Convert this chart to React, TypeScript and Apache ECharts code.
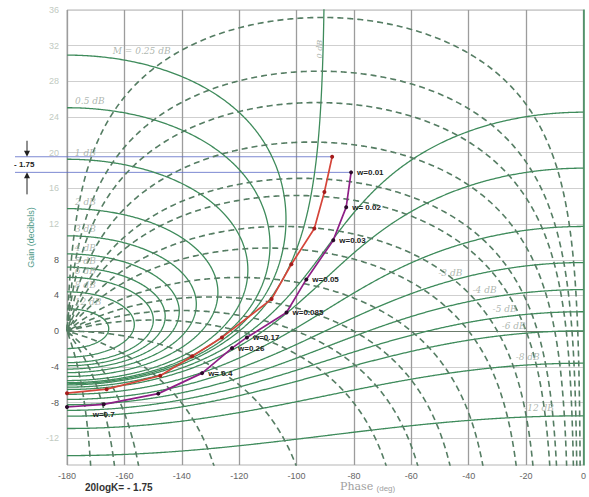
import React, { useEffect, useRef } from 'react';
import * as echarts from 'echarts';

// ---- data ----
const GAIN_TICKS = [-12, -8, -4, 0, 4, 8, 12, 16, 20, 24, 28, 32, 36];
// closed-loop magnitude contours (dB)
const M_DB = [12, 8, 6, 5, 4, 3, 2, 1, 0.5, 0.25, 0, -0.5, -1, -2, -3, -4, -5, -6, -8, -12];
// closed-loop phase contours (deg)
const N_DEG = [-1, -2, -3, -5, -8, -10, -15, -20, -30, -40, -50, -60, -90, -120, -150, -160, -170];

const RED_PHASE = [-87.6, -90.3, -93.8, -101.8, -108.7, -126.0, -136.4, -147.5, -166.2, -180];
const RED_GAIN = [19.55, 15.6, 11.5, 7.5, 3.6, -0.7, -2.8, -5.0, -6.5, -6.95];

const PURPLE_PHASE = [-81.0, -82.7, -87.2, -96.6, -103.5, -117.3, -122.5, -132.9, -148.2, -167.2, -180];
const PURPLE_GAIN = [17.8, 13.9, 10.2, 5.8, 2.1, -0.7, -1.9, -4.7, -7.0, -8.2, -8.5];
const W_LABELS = ['w=0.01', 'w= 0.02', 'w=0.03', 'w=0.05', 'w=0.085', 'w=0.17', 'w=0.26', 'w= 0.4', '', 'w=0.7', ''];

const M_LEFT_LABELS = [
  { m: 0.25, text: 'M = 0.25 dB' },
  { m: 0.5, text: '0.5 dB' },
  { m: 1, text: '1 dB' },
  { m: 2, text: '2 dB' },
  { m: 3, text: '3 dB' },
  { m: 4, text: '4 dB' },
  { m: 5, text: '5 dB' },
  { m: 6, text: '6 dB' },
  { m: 8, text: '8 dB' },
  { m: 12, text: '12 dB' },
];
const M_RIGHT_LABELS = [
  { m: -3, text: '-3 dB' },
  { m: -4, text: '-4 dB' },
  { m: -5, text: '-5 dB' },
  { m: -6, text: '-6 dB' },
  { m: -8, text: '-8 dB' },
  { m: -12, text: '-12 dB' },
];
const M_LEFT_AT = -178;
const M_QUARTER_AT = -165;
const M_RIGHT_AT = [-47, -35, -28, -25, -20, -17];

const K_TEXT = '20logK= - 1.75';
const SHIFT_TEXT = '- 1.75';

// ---- Nichols chart geometry ----
function lOf(m: number, a: number): [number, number] {
  const tr = m * Math.cos(a), ti = m * Math.sin(a);
  const dr = 1 - tr, di = -ti;
  const den = dr * dr + di * di;
  const lr = (tr * dr + ti * di) / den;
  const li = (ti * dr - tr * di) / den;
  const ph = (Math.atan2(li, lr) * 180) / Math.PI;
  const g = 10 * Math.log10(lr * lr + li * li);
  return [ph, g];
}

function mContour(mdb: number): [number, number][] {
  const m = Math.pow(10, mdb / 20);
  const pts: [number, number][] = [];
  const N = 700;
  for (let k = 0; k <= N; k++) {
    const t = k / N;
    const aDeg = -(0.002 + 179.996 * Math.pow(t, 2.5));
    pts.push(lOf(m, (aDeg * Math.PI) / 180));
  }
  return pts;
}

function nContour(aDeg: number): [number, number][] {
  const a = (aDeg * Math.PI) / 180;
  const pts: [number, number][] = [];
  const N = 1400;
  for (let k = 0; k <= N; k++) {
    const u = -1 + (2 * k) / N;
    const db = 60 * Math.sign(u) * Math.pow(Math.abs(u), 3);
    pts.push(lOf(Math.pow(10, db / 20), a));
  }
  return pts;
}

function pointAtPhase(pts: [number, number][], phase: number): [number, number] {
  const s0 = Math.sign(pts[0][0] - phase);
  for (let i = 1; i < pts.length; i++) {
    if (Math.sign(pts[i][0] - phase) !== s0) return pts[i];
  }
  return pts[pts.length - 1];
}

export default function App() {
  const ref = useRef<HTMLDivElement>(null);

  useEffect(() => {
    if (!ref.current) return;
    const chart = echarts.init(ref.current, undefined, { renderer: 'svg' });

    const contours: Record<string, [number, number][]> = {};
    M_DB.forEach((m) => (contours[String(m)] = mContour(m)));

    const mSeries = M_DB.map((m) => ({
      type: 'line',
      name: 'M' + m,
      data: contours[String(m)],
      showSymbol: false,
      symbol: 'none',
      silent: true,
      z: 2,
      lineStyle: { color: '#3e8b5b', width: 1.3 },
    }));

    const nSeries = N_DEG.map((a) => ({
      type: 'line',
      name: 'N' + a,
      data: nContour(a),
      showSymbol: false,
      symbol: 'none',
      silent: true,
      z: 2,
      lineStyle: { color: '#557d63', width: 1.6, type: [6, 4] },
    }));

    const labelStyle = {
      color: '#9aa69c',
      fontSize: 9,
      fontStyle: 'italic',
      fontFamily: 'DejaVu Serif, serif',
    };

    const leftLabelData = M_LEFT_LABELS.map((l) => ({
      value: pointAtPhase(contours[String(l.m)], l.m === 0.25 ? M_QUARTER_AT : M_LEFT_AT),
      label: { formatter: l.text },
    }));
    const rightLabelData = M_RIGHT_LABELS.map((l, i) => ({
      value: pointAtPhase(contours[String(l.m)], M_RIGHT_AT[i]),
      label: { formatter: l.text },
    }));

    const option: any = {
      animation: false,
      grid: { left: 67, right: 2, top: 10, bottom: 32, show: true, borderColor: '#b5b5b5', borderWidth: 1 },
      xAxis: {
        type: 'value',
        min: -180,
        max: 0,
        interval: 20,
        axisLine: { show: true, lineStyle: { color: '#6b7b6b', width: 1.2 } },
        axisTick: { show: false },
        axisLabel: { color: '#666', fontSize: 9, margin: 6, fontFamily: 'Liberation Sans, Arial' },
        splitLine: { show: true, lineStyle: { color: '#9c9c9c', width: 1.3 } },
      },
      yAxis: {
        type: 'value',
        min: -15,
        max: 36,
        name: 'Gain (decibels)',
        nameLocation: 'middle',
        nameGap: 32,
        nameTextStyle: { color: '#4f9a88', fontSize: 9, fontFamily: 'Liberation Sans, Arial' },
        axisLine: { show: true, lineStyle: { color: '#3e8b5b', width: 1.5 } },
        axisTick: { show: false, customValues: GAIN_TICKS },
        axisLabel: {
          customValues: GAIN_TICKS,
          margin: 8,
          fontFamily: 'Liberation Sans, Arial',
          formatter: (v: number) => (v >= 12 || v <= -12 ? `{f|${v}}` : `{d|${v}}`),
          rich: {
            f: { color: '#c2cbc2', fontSize: 9 },
            d: { color: '#555', fontSize: 9 },
          },
        },
        splitLine: { show: true, lineStyle: { color: '#cfcfcf', width: 1 } },
      },
      series: [
        ...mSeries,
        ...nSeries,
        {
          type: 'scatter',
          name: 'leftLabels',
          data: leftLabelData,
          symbolSize: 0,
          silent: true,
          z: 3,
          label: { show: true, position: [2, -11], ...labelStyle },
        },
        {
          type: 'scatter',
          name: 'rightLabels',
          data: rightLabelData,
          symbolSize: 0,
          silent: true,
          z: 3,
          label: { show: true, position: [-10, -13], ...labelStyle },
        },
        {
          type: 'line',
          name: 'red',
          data: RED_PHASE.map((p, i) => [p, RED_GAIN[i]]),
          symbol: 'circle',
          symbolSize: 4,
          z: 10,
          lineStyle: { color: '#d5453a', width: 1.7 },
          itemStyle: { color: '#a51c1c' },
        },
        {
          type: 'line',
          name: 'purple',
          data: PURPLE_PHASE.map((p, i) => ({
            value: [p, PURPLE_GAIN[i]],
            label: {
              show: W_LABELS[i] !== '',
              formatter: W_LABELS[i],
              position: W_LABELS[i] === 'w=0.7' ? 'bottom' : 'right',
              distance: 4,
            },
          })),
          symbol: 'circle',
          symbolSize: 4,
          z: 11,
          lineStyle: { color: '#8e1f86', width: 1.7 },
          itemStyle: { color: '#2a0a2a' },
          label: { color: '#222', fontSize: 8, fontWeight: 'bold', fontFamily: 'Liberation Sans, Arial' },
        },
      ],
    };

    chart.setOption(option);

    const pRed = chart.convertToPixel({ gridIndex: 0 }, [RED_PHASE[0], RED_GAIN[0]]) as number[];
    const pPur = chart.convertToPixel({ gridIndex: 0 }, [PURPLE_PHASE[0], PURPLE_GAIN[0]]) as number[];
    const zeroTop = (() => {
      const pts = contours['0'];
      for (const p of pts) if (p[1] <= 33) return chart.convertToPixel({ gridIndex: 0 }, p) as number[];
      return [330, 40];
    })();
    const blue = '#5b6bc6';
    const ax = 27;

    chart.setOption({
      graphic: [
        { type: 'line', shape: { x1: 15, y1: pRed[1], x2: pRed[0], y2: pRed[1] }, style: { stroke: blue, lineWidth: 0.8 } },
        { type: 'line', shape: { x1: 15, y1: pPur[1], x2: pPur[0], y2: pPur[1] }, style: { stroke: blue, lineWidth: 0.8 } },
        { type: 'line', shape: { x1: ax, y1: pRed[1] - 16, x2: ax, y2: pRed[1] - 4 }, style: { stroke: '#222', lineWidth: 1 } },
        { type: 'polygon', shape: { points: [[ax - 3, pRed[1] - 6], [ax + 3, pRed[1] - 6], [ax, pRed[1]]] }, style: { fill: '#222' } },
        { type: 'line', shape: { x1: ax, y1: pPur[1] + 22, x2: ax, y2: pPur[1] + 4 }, style: { stroke: '#222', lineWidth: 1 } },
        { type: 'polygon', shape: { points: [[ax - 3, pPur[1] + 6], [ax + 3, pPur[1] + 6], [ax, pPur[1]]] }, style: { fill: '#222' } },
        {
          type: 'text',
          x: 14,
          y: (pRed[1] + pPur[1]) / 2,
          style: { text: SHIFT_TEXT, fill: '#222', fontSize: 8, fontWeight: 'bold', fontFamily: 'Liberation Sans, Arial', verticalAlign: 'middle' },
        },
        {
          type: 'text',
          x: zeroTop[0] - 4,
          y: zeroTop[1] + 12,
          rotation: Math.PI / 2,
          style: { text: '0 dB', fill: '#a8b0a8', fontSize: 8, fontStyle: 'italic', fontFamily: 'DejaVu Serif, serif', align: 'center', verticalAlign: 'middle' },
        },
        {
          type: 'text',
          x: 85,
          y: 482,
          style: { text: K_TEXT, fill: '#333', fontSize: 10, fontWeight: 'bold', fontFamily: 'Liberation Sans, Arial' },
        },
        {
          type: 'text',
          x: 340,
          y: 480,
          style: {
            text: '{a|Phase} {b|(deg)}',
            rich: {
              a: { fill: '#a0a0a0', fontSize: 11, fontFamily: 'DejaVu Serif, serif' },
              b: { fill: '#a0a0a0', fontSize: 8, fontFamily: 'Liberation Sans, Arial', padding: [4, 0, 0, 0] },
            },
          },
        },
      ],
    });

    return () => chart.dispose();
  }, []);

  return <div ref={ref} style={{ position: 'absolute', left: 0, top: 0, width: 589, height: 497, background: '#fff' }} />;
}
